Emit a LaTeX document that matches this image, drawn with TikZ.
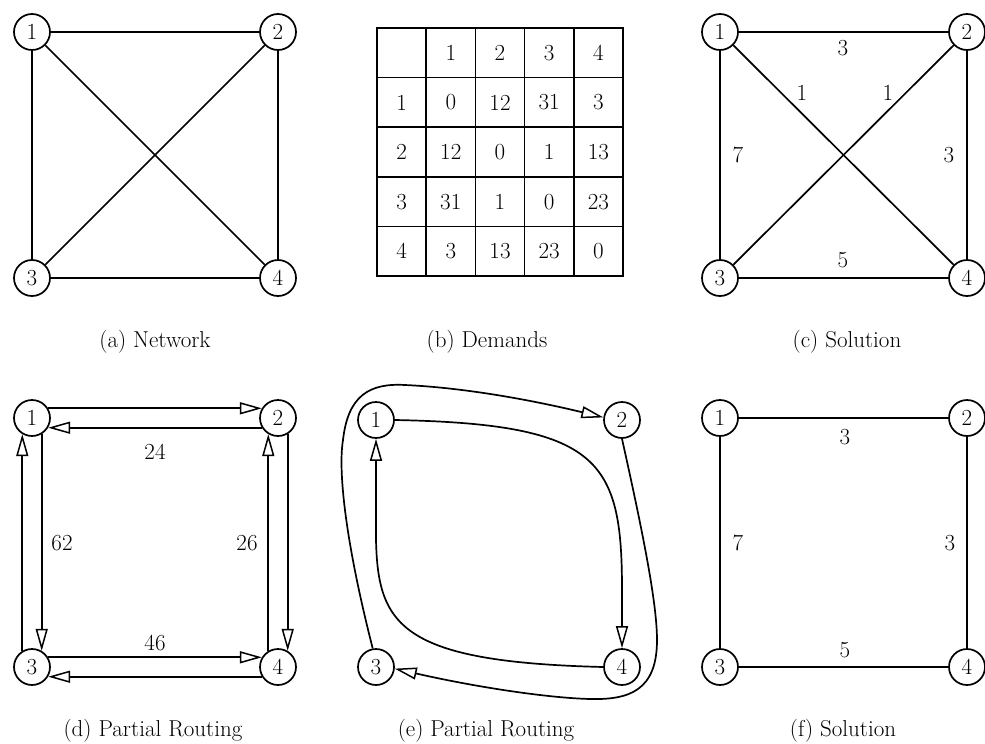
\documentclass[tikz,border=0pt]{standalone}
\usetikzlibrary{arrows.meta}
\begin{document}
\begin{tikzpicture}[x=1pt,y=-1pt,
  every node/.style={font=\fontsize{23}{27}\selectfont},
  vertex/.style={circle,draw,line width=1.7pt,minimum size=36pt,inner sep=0pt},
  link/.style={line width=1.7pt},
  flow/.style={line width=1.7pt,-{Triangle[open,length=22pt,width=12pt,line width=1.5pt]}},
  caption/.style={anchor=base},
  weight/.style={inner sep=1pt}
]
\useasboundingbox (0,0) rectangle (985,744);

% ---------- (a) Network ----------
\node[vertex] (a1) at (32,32) {1};
\node[vertex] (a2) at (278,32) {2};
\node[vertex] (a3) at (32,278) {3};
\node[vertex] (a4) at (278,278) {4};
\draw[link] (a1) -- (a2);
\draw[link] (a1) -- (a3);
\draw[link] (a1) -- (a4);
\draw[link] (a2) -- (a3);
\draw[link] (a2) -- (a4);
\draw[link] (a3) -- (a4);
\node[caption] (capa) at (155,347) {(a) Network};

% ---------- (b) Demands ----------
\draw[link] (377,28) rectangle (623,276);
\foreach \i in {1,...,4} {
  \draw[link] ({377+49.2*\i},28) -- ({377+49.2*\i},276);
  \draw[link] (377,{28+49.6*\i}) -- (623,{28+49.6*\i});
}
\foreach \r/\c/\t in {0/1/1,0/2/2,0/3/3,0/4/4,
                      1/0/1,1/1/0,1/2/12,1/3/31,1/4/3,
                      2/0/2,2/1/12,2/2/0,2/3/1,2/4/13,
                      3/0/3,3/1/31,3/2/1,3/3/0,3/4/23,
                      4/0/4,4/1/3,4/2/13,4/3/23,4/4/0}
  \node (t\r\c) at ({377+49.2*(\c+0.5)},{28+49.6*(\r+0.5)}) {\t};
\node[caption] (capb) at (487,347) {(b) Demands};

% ---------- (c) Solution ----------
\node[vertex] (c1) at (720,32) {1};
\node[vertex] (c2) at (967,32) {2};
\node[vertex] (c3) at (720,278) {3};
\node[vertex] (c4) at (967,278) {4};
\draw[link] (c1) -- (c2);
\draw[link] (c1) -- (c3);
\draw[link] (c1) -- (c4);
\draw[link] (c2) -- (c3);
\draw[link] (c2) -- (c4);
\draw[link] (c3) -- (c4);
\node[weight] (w12) at (843,48) {3};
\node[weight] (w14) at (802,93) {1};
\node[weight] (w23) at (888,93) {1};
\node[weight] (w13) at (738,155) {7};
\node[weight] (w24) at (949,155) {3};
\node[weight] (w34) at (843,260) {5};
\node[caption] (capc) at (847,347) {(c) Solution};

% ---------- (d) Partial Routing ----------
\node[vertex] (d1) at (32,418) {1};
\node[vertex] (d2) at (278,418) {2};
\node[vertex] (d3) at (32,667) {3};
\node[vertex] (d4) at (278,667) {4};
\draw[flow] (d1.31) -- (d2.149);
\draw[flow] (d2.211) -- (d1.329);
\draw[flow] (d3.121) -- (d1.239);
\draw[flow] (d1.301) -- (d3.59);
\draw[flow] (d4.121) -- (d2.239);
\draw[flow] (d2.301) -- (d4.59);
\draw[flow] (d3.31) -- (d4.149);
\draw[flow] (d4.211) -- (d3.329);
\node[weight] (v12) at (155,452) {24};
\node[weight] (v13) at (62,543) {62};
\node[weight] (v24) at (247,543) {26};
\node[weight] (v34) at (155,643) {46};
\node[caption] (capd) at (153,736) {(d) Partial Routing};

% ---------- (e) Partial Routing ----------
\node[vertex] (e1) at (376,420) {1};
\node[vertex] (e2) at (622,420) {2};
\node[vertex] (e3) at (376,667) {3};
\node[vertex] (e4) at (622,667) {4};
% outer route 3 -> 2 round the top-left corner
\draw[flow] (e3.100) .. controls (345,540) and (338,470) .. (343,440)
            .. controls (348,395) and (370,383) .. (405,385)
            .. controls (470,388) and (540,402) .. (e2.172);
% inner route 1 -> 4
\draw[flow] (e1.east) .. controls (600,424) and (622,460) .. (622,590) -- (e4.north);
% outer route 2 -> 3 round the bottom-right corner
\draw[flow] (e2.south) .. controls (640,520) and (657,600) .. (657,640)
            .. controls (657,690) and (630,700) .. (590,699)
            .. controls (550,698) and (480,688) .. (e3.-5);
% inner route 4 -> 1
\draw[flow] (e4.west) .. controls (400,662) and (378,625) .. (376,540) -- (e1.south);
\node[caption] (cape) at (486,736) {(e) Partial Routing};

% ---------- (f) Solution ----------
\node[vertex] (f1) at (720,418) {1};
\node[vertex] (f2) at (967,418) {2};
\node[vertex] (f3) at (720,667) {3};
\node[vertex] (f4) at (967,667) {4};
\draw[link] (f1) -- (f2);
\draw[link] (f1) -- (f3);
\draw[link] (f2) -- (f4);
\draw[link] (f3) -- (f4);
\node[weight] (x12) at (845,437) {3};
\node[weight] (x13) at (738,543) {7};
\node[weight] (x24) at (950,543) {3};
\node[weight] (x34) at (845,650) {5};
\node[caption] (capf) at (843,736) {(f) Solution};
\end{tikzpicture}
\end{document}
